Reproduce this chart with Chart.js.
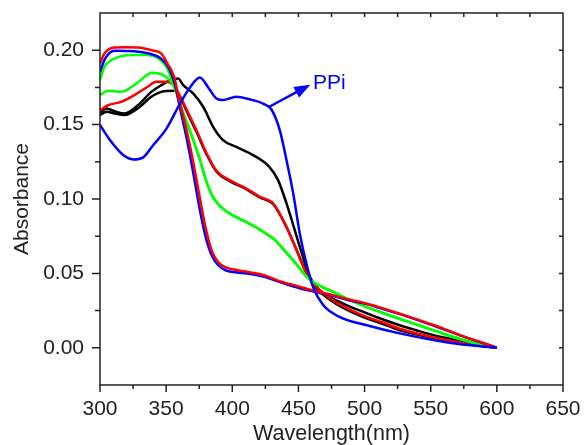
<!DOCTYPE html>
<html>
<head>
<meta charset="utf-8">
<script src="https://cdn.jsdelivr.net/npm/chart.js@4.4.1/dist/chart.umd.min.js"></script>
<style>
  body{margin:0;background:#fff}
  #wrap{width:587px;height:445px}
</style>
</head>
<body>
<div id="wrap"><canvas id="chart"></canvas></div>
<script>
// each trace: wavelength (nm) and absorbance
const redAWl  = [300,303.5,311,320,329,339,346,351,356,360,365,370,375,380,385,390,395,405,415,425,435,445,451,463,476,488,501,514,526,539,552,565,577,590,600]
const redAAbs = [0.191,0.198,0.2018,0.202,0.2018,0.200,0.198,0.191,0.182,0.166,0.148,0.127,0.103,0.080,0.064,0.057,0.054,0.052,0.0505,0.0485,0.045,0.0425,0.041,0.038,0.0354,0.0325,0.0298,0.0265,0.0231,0.0193,0.0153,0.011,0.007,0.0032,0.0]

const blueAWl  = [300,304,311,320,329,339,346,352,357,360,365,370,375,380,385,390,395,405,415,425,435,445,451,463,476,488,501,514,526,539,552,565,577,590,600]
const blueAAbs = [0.1855,0.1945,0.1996,0.1995,0.199,0.1973,0.1945,0.188,0.176,0.163,0.143,0.120,0.095,0.074,0.061,0.055,0.052,0.0505,0.0495,0.0475,0.0445,0.0415,0.040,0.0375,0.035,0.032,0.0295,0.026,0.0228,0.019,0.015,0.0108,0.0068,0.003,0.0]

const greenAWl  = [300,303.5,308.6,316,326,336,344,350,356,362,368,375,380,385,390,396,405,413,420,426,433,438,445,451,456,461,468,476,488,501,514,526,539,552,565,577,590,600]
const greenAAbs = [0.180,0.189,0.1933,0.196,0.1968,0.1967,0.1945,0.189,0.176,0.160,0.146,0.128,0.113,0.102,0.096,0.0915,0.087,0.0835,0.080,0.0765,0.072,0.067,0.060,0.0534,0.048,0.0444,0.041,0.0378,0.0325,0.0277,0.0235,0.0197,0.0158,0.0119,0.008,0.0047,0.0018,0.0]

const greenBWl  = [300,306,316,324,331,339,346,352.5,356,362,368,375,380,385,390,396,405,413,420,426,433,438,445,451,456,461,468,476,488,501,514,526,539,552,565,577,590,600]
const greenBAbs = [0.1698,0.1727,0.172,0.1754,0.180,0.1848,0.184,0.180,0.1755,0.1595,0.1455,0.1278,0.1128,0.1018,0.0958,0.0913,0.0868,0.0833,0.0798,0.0763,0.0718,0.0668,0.0598,0.0532,0.0478,0.0442,0.0408,0.0376,0.0323,0.0275,0.0233,0.0195,0.0156,0.0117,0.0078,0.0046,0.0017,0.0]

const redBWl  = [300,306,316,326,336,342.5,350,356,360,365.5,373,380.6,388,398,410.8,420.8,431,441,448.5,456,463.6,476,488,501,514,526,539,552,565,577,590,600]
const redBAbs = [0.1597,0.163,0.1653,0.1698,0.1754,0.1788,0.1788,0.176,0.170,0.160,0.146,0.1306,0.119,0.1127,0.107,0.1015,0.097,0.0813,0.0657,0.050,0.041,0.032,0.026,0.021,0.017,0.013,0.0098,0.007,0.0047,0.0028,0.0011,0.0]

const blackB1Wl  = [300,305,311,318.6,328.7,338.8,346.3,356.4,360,365.5,373,380.6,388,398,410.8,420.8,431,441,448.5,456,463.6,476,488,501,514,526,539,552,565,577,590,600]
const blackB1Abs = [0.1564,0.1586,0.1575,0.1564,0.161,0.1687,0.172,0.1727,0.1695,0.159,0.145,0.130,0.1185,0.112,0.1065,0.101,0.0965,0.081,0.066,0.0505,0.040,0.031,0.025,0.020,0.016,0.012,0.009,0.0065,0.0043,0.0025,0.001,0.0]

const blackB2Wl  = [300,305,311,318.6,328.7,338.8,346.3,353.8,359,362.9,370.4,378,385.5,393,403,415.7,428,434.6,441,451,458.6,466,476,488,501,514,526,539,552,565,577,590,600]
const blackB2Abs = [0.158,0.1608,0.159,0.1575,0.163,0.172,0.1765,0.180,0.181,0.1765,0.171,0.162,0.1485,0.1396,0.135,0.1295,0.1216,0.1127,0.097,0.068,0.0477,0.0388,0.033,0.028,0.0235,0.019,0.0153,0.0118,0.0085,0.006,0.0035,0.0013,0.0]

// spectrum after adding PPi
const ppiWl  = [300,307.5,317.6,325,332.7,340,350,360.4,368,375.5,381.8,388,393,403,413,423.5,429.7,436,441,446,451,456,461,468.7,481,501,526.5,564,600]
const ppiAbs = [0.1497,0.1396,0.1295,0.1266,0.128,0.136,0.147,0.164,0.175,0.1817,0.175,0.1676,0.1665,0.1687,0.167,0.164,0.160,0.146,0.126,0.104,0.0769,0.0567,0.041,0.0287,0.0208,0.0153,0.0097,0.0034,0.0]

const xTickValues = [300,350,400,450,500,550,600,650]
const yTickValues = [0,0.05,0.10,0.15,0.20]

const AXIS = "#222"
const FONT = "'Liberation Sans', Arial, sans-serif"

function trace(label, color, wl, ab){
    return {
        label: label,
        data: wl.map((w, i) => ({x: w, y: ab[i]})),
        borderColor: color,
        borderWidth: 2.5,
        pointRadius: 0,
        fill: false,
        cubicInterpolationMode: "monotone"
    }
}

// labels must not push the plot area around
function fixBox(s, key, size){
    s[key] = size
    s.paddingTop = 0
    s.paddingBottom = 0
    s.paddingLeft = 0
    s.paddingRight = 0
}

// frame with tick marks (outward on bottom/left, inward on top/right) + PPi arrow
const frame = {
    id: "frame",
    afterDatasetsDraw(chart){
        const {ctx, chartArea: a, scales: {x, y}} = chart
        ctx.save()
        ctx.strokeStyle = AXIS
        ctx.lineWidth = 1.5
        ctx.strokeRect(a.left, a.top, a.right - a.left, a.bottom - a.top)
        ctx.beginPath()
        for(let v = 325; v < 650; v += 25){
            const px = x.getPixelForValue(v)
            ctx.moveTo(px, a.top); ctx.lineTo(px, a.top + 4)
        }
        for(let v = 300; v <= 650; v += 25){
            const px = x.getPixelForValue(v)
            ctx.moveTo(px, a.bottom); ctx.lineTo(px, a.bottom + (v % 50 == 0 ? 7 : 4))
        }
        for(let i = 0; i <= 8; i++){
            const py = y.getPixelForValue(i * 0.025)
            ctx.moveTo(a.left, py); ctx.lineTo(a.left - (i % 2 == 0 ? 8 : 5), py)
            ctx.moveTo(a.right, py); ctx.lineTo(a.right - 4, py)
        }
        ctx.stroke()

        // arrow pointing at the PPi label
        const x0 = x.getPixelForValue(428), y0 = y.getPixelForValue(0.162)
        const x1 = x.getPixelForValue(459), y1 = y.getPixelForValue(0.1768)
        const ang = Math.atan2(y1 - y0, x1 - x0)
        ctx.strokeStyle = "#0000ff"
        ctx.fillStyle = "#0000ff"
        ctx.lineWidth = 2.5
        ctx.beginPath()
        ctx.moveTo(x0, y0)
        ctx.lineTo(x1 - 10 * Math.cos(ang), y1 - 10 * Math.sin(ang))
        ctx.stroke()
        ctx.beginPath()
        ctx.moveTo(x1, y1)
        ctx.lineTo(x1 - 16 * Math.cos(ang) + 6 * Math.sin(ang), y1 - 16 * Math.sin(ang) - 6 * Math.cos(ang))
        ctx.lineTo(x1 - 16 * Math.cos(ang) - 6 * Math.sin(ang), y1 - 16 * Math.sin(ang) + 6 * Math.cos(ang))
        ctx.closePath()
        ctx.fill()
        ctx.font = `21px ${FONT}`
        ctx.textAlign = "left"
        ctx.textBaseline = "middle"
        ctx.fillText("PPi", x.getPixelForValue(461), y.getPixelForValue(0.1775))
        ctx.restore()
    }
}

new Chart(document.getElementById("chart"), {
    type: "line",
    data: {
        datasets: [
            trace("PPi", "#0000ff", ppiWl, ppiAbs),
            trace("red 1", "#ff0000", redAWl, redAAbs),
            trace("blue 1", "#0000ff", blueAWl, blueAAbs),
            trace("green 1", "#00ff00", greenAWl, greenAAbs),
            trace("green 2", "#00ff00", greenBWl, greenBAbs),
            trace("red 2", "#ff0000", redBWl, redBAbs),
            trace("black 1", "#000000", blackB1Wl, blackB1Abs),
            trace("black 2", "#000000", blackB2Wl, blackB2Abs)
        ]
    },
    options: {
        responsive: true,
        maintainAspectRatio: false,
        animation: false,
        layout: {padding: {top: 13, right: 24, left: 0, bottom: 0}},
        plugins: {legend: {display: false}, tooltip: {enabled: false}},
        scales: {
            x: {
                type: "linear",
                min: 300,
                max: 650,
                afterFit: s => fixBox(s, "height", 60),
                afterBuildTicks: s => { s.ticks = xTickValues.map(v => ({value: v})) },
                grid: {display: false},
                border: {display: false},
                ticks: {color: AXIS, padding: 4, maxRotation: 0, font: {family: FONT, size: 21}},
                title: {display: true, text: "Wavelength(nm)", color: AXIS, padding: {top: 0, bottom: -2}, font: {family: FONT, size: 21.5}}
            },
            y: {
                type: "linear",
                min: -0.025,
                max: 0.225,
                afterFit: s => fixBox(s, "width", 100),
                afterBuildTicks: s => { s.ticks = yTickValues.map(v => ({value: v})) },
                grid: {display: false},
                border: {display: false},
                ticks: {color: AXIS, padding: 8, callback: v => v.toFixed(2), font: {family: FONT, size: 21}},
                title: {display: true, text: "Absorbance", color: AXIS, padding: {top: 10, bottom: 0}, font: {family: FONT, size: 21}}
            }
        }
    },
    plugins: [frame]
})
</script>
</body>
</html>
